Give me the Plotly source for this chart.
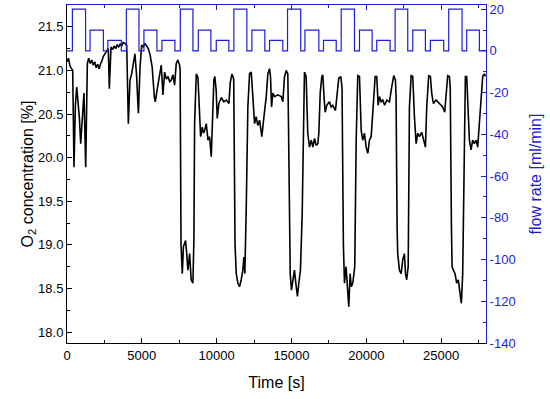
import plotly.graph_objects as go

# O2 concentration trace (time [s], O2 [%])
o2_time = [0, 100, 200, 300, 380, 467, 560, 650, 740, 830, 915, 1000, 1080, 1135, 1250, 1360, 1450, 1550,
           1650, 1750, 1850, 1950, 2050, 2150, 2250, 2320, 2420, 2540, 2650, 2760, 2830, 2940, 3050, 3150,
           3250, 3350, 3450, 3550, 3650, 3750, 3870, 3990, 4100, 4210, 4320, 4430, 4540, 4650, 4770, 4880,
           4990, 5100, 5210, 5320, 5430, 5540, 5690, 5835, 5900, 6055, 6150, 6300, 6410, 6524, 6640, 6750,
           6860, 6970, 7080, 7190, 7300, 7410, 7525, 7560, 7620, 7705, 7780, 7925, 8000, 8080, 8193, 8300,
           8413, 8480, 8527, 8590, 8640, 8750, 8860, 8930, 9040, 9120, 9195, 9307, 9420, 9530, 9640, 9750,
           9815, 9880, 9970, 10040, 10150, 10310, 10480, 10645, 10820, 10910, 11020, 11085, 11140, 11230,
           11310, 11420, 11530, 11640, 11750, 11820, 11885, 11980, 12086, 12200, 12310, 12420, 12533, 12640,
           12750, 12867, 13020, 13135, 13315, 13420, 13535, 13600, 13670, 13755, 13870, 14090, 14315, 14423,
           14537, 14650, 14757, 14800, 14917, 15000, 15090, 15200, 15318, 15400, 15490, 15600, 15718, 15825,
           15868, 15980, 16090, 16200, 16320, 16430, 16540, 16650, 16760, 16830, 16920, 17030, 17095, 17190,
           17255, 17360, 17540, 17650, 17760, 17940, 18055, 18160, 18296, 18380, 18470, 18543, 18650, 18764,
           18830, 18920, 19000, 19097, 19160, 19230, 19325, 19430, 19545, 19660, 19765, 19880, 19990, 20100,
           20212, 20326, 20432, 20593, 20700, 20793, 20880, 20990, 21100, 21230, 21367, 21548, 21700, 21835,
           21948, 21990, 22060, 22100, 22215, 22330, 22436, 22550, 22620, 22700, 22800, 22883, 23000, 23105,
           23217, 23330, 23440, 23550, 23705, 23840, 23952, 24040, 24170, 24285, 24372, 24485, 24665, 24887,
           25107, 25240, 25333, 25440, 25554, 25610, 25690, 25734, 25822, 25930, 26042, 26150, 26268, 26355,
           26442, 26535, 26622, 26710, 26800, 26890, 27000, 27110, 27220, 27335, 27445, 27557, 27670, 27780,
           27890, 27960]
o2_value = [21.10, 21.14, 21.05, 21.02, 21.00, 19.89, 20.60, 20.81, 20.62, 20.45, 20.16, 20.39, 20.60, 20.74,
            19.89, 21.08, 21.14, 21.08, 21.12, 21.06, 21.10, 21.03, 21.07, 21.02, 21.08, 21.10, 21.16, 21.19,
            21.22, 21.25, 20.79, 21.27, 21.24, 21.28, 21.25, 21.29, 21.27, 21.30, 21.28, 21.32, 21.31, 21.29,
            20.39, 20.89, 20.96, 21.08, 21.19, 20.94, 20.51, 21.04, 21.29, 21.27, 21.31, 21.28, 21.25, 21.19,
            21.04, 20.70, 20.64, 20.81, 20.89, 21.06, 20.72, 20.98, 20.90, 20.93, 20.87, 20.89, 20.95, 20.83,
            21.08, 21.12, 21.06, 21.00, 19.00, 18.67, 18.98, 19.05, 18.90, 18.71, 18.90, 18.60, 18.56, 19.05,
            20.39, 20.89, 20.96, 20.92, 20.58, 20.24, 20.35, 20.28, 20.31, 20.39, 20.20, 20.24, 20.01, 20.58,
            20.89, 20.93, 20.77, 20.45, 20.62, 20.69, 20.64, 20.66, 20.62, 20.86, 20.96, 20.93, 20.90, 19.00,
            18.67, 18.56, 18.52, 18.60, 18.71, 18.86, 18.67, 19.44, 20.58, 20.96, 20.98, 20.70, 20.39, 20.47,
            20.37, 20.43, 20.24, 20.43, 20.70, 20.96, 21.02, 20.93, 20.58, 20.74, 20.70, 20.72, 20.70, 20.64,
            20.93, 21.00, 20.96, 20.40, 18.67, 18.48, 18.60, 18.71, 18.52, 18.41, 18.56, 18.71, 19.36, 20.58,
            20.98, 20.93, 20.28, 20.12, 20.20, 20.12, 20.22, 20.14, 20.16, 20.28, 20.74, 20.93, 20.95, 20.66,
            20.52, 20.60, 20.64, 20.58, 20.60, 20.54, 20.77, 20.91, 20.93, 20.80, 19.00, 18.56, 18.75, 18.44,
            18.29, 18.67, 18.52, 18.56, 18.67, 18.75, 20.20, 20.94, 20.93, 20.31, 20.20, 20.28, 20.12, 20.05,
            20.20, 20.24, 20.51, 20.93, 20.93, 20.60, 20.70, 20.64, 20.66, 20.60, 20.66, 20.64, 20.81, 20.94,
            20.89, 20.70, 19.20, 18.90, 18.71, 18.67, 18.83, 18.90, 18.67, 18.60, 18.75, 20.58, 20.94, 20.93,
            20.47, 20.16, 20.28, 20.24, 20.29, 20.20, 20.12, 20.58, 20.94, 20.93, 20.74, 20.62, 20.66, 20.62,
            20.58, 20.52, 20.77, 20.94, 20.93, 20.80, 19.20, 18.75, 18.71, 18.67, 18.56, 18.60, 18.44, 18.33,
            18.67, 20.20, 20.93, 20.93, 20.58, 20.20, 20.09, 20.20, 20.16, 20.20, 20.12, 20.39, 20.74, 20.93,
            20.96, 20.93]

# flow rate step signal (time at which level starts, level [ml/min])
flow_time = [0, 360, 1240, 1540, 2430, 2730, 3630,
             3966, 4810, 5140, 6010, 6345, 7210,
             7572, 8415, 8775, 9615, 9975, 10815,
             11151, 12020, 12355, 13220, 13535, 14420,
             14737, 15620, 15900, 16830, 17140, 17990,
             18323, 19210, 19545, 20390, 20700, 21590,
             21929, 22770, 23105, 23950, 24285, 25175,
             25508, 26400, 26710, 27555, 28000]
flow_value = [0, 20, 0, 10, 0, 5, 0,
              20, 0, 10, 0, 5, 0,
              20, 0, 10, 0, 5, 0,
              20, 0, 10, 0, 5, 0,
              20, 0, 10, 0, 5, 0,
              20, 0, 10, 0, 5, 0,
              20, 0, 10, 0, 5, 0,
              20, 0, 10, 0, 0]

x_ticks = [0, 5000, 10000, 15000, 20000, 25000]
y_ticks = [18.0, 18.5, 19.0, 19.5, 20.0, 20.5, 21.0, 21.5]
y2_ticks = [20, 0, -20, -40, -60, -80, -100, -120, -140]

BLUE = "rgb(30,30,215)"
FONT = "Liberation Sans, Arial, sans-serif"

fig = go.Figure()
fig.add_trace(go.Scatter(x=o2_time, y=o2_value, mode="lines",
                         line=dict(color="black", width=1.6), xaxis="x", yaxis="y",
                         showlegend=False))
fig.add_trace(go.Scatter(x=flow_time, y=flow_value, mode="lines", line_shape="hv",
                         line=dict(color=BLUE, width=1.2), xaxis="x2", yaxis="y2",
                         showlegend=False))

fig.update_layout(
    width=550, height=399,
    margin=dict(l=67, r=64, t=5, b=56),
    paper_bgcolor="white", plot_bgcolor="white",
    font=dict(family=FONT, size=13, color="black"),
    xaxis=dict(range=[0, 28000], tickvals=x_ticks, ticktext=[str(v) for v in x_ticks],
               ticks="inside", ticklen=5, tickcolor="black", showline=True, linecolor="black",
               linewidth=1, showgrid=False, zeroline=False, automargin=False,
               minor=dict(dtick=2500, tick0=0, ticks="inside", ticklen=3, tickcolor="black"),
               title=dict(text="Time [s]", font=dict(size=16), standoff=15),
               tickfont=dict(size=13)),
    xaxis2=dict(range=[0, 28000], overlaying="x", side="top", anchor="y2",
                tickvals=x_ticks, showticklabels=False, automargin=False,
                ticks="inside", ticklen=5, tickcolor=BLUE, showline=True, linecolor=BLUE,
                linewidth=1, showgrid=False, zeroline=False,
                minor=dict(dtick=2500, tick0=0, ticks="inside", ticklen=3, tickcolor=BLUE)),
    yaxis=dict(range=[17.875, 21.75], tickvals=y_ticks, ticktext=[f"{v:.1f}" for v in y_ticks],
               ticks="inside", ticklen=5, tickcolor="black", showline=True, linecolor="black",
               linewidth=1, showgrid=False, zeroline=False, automargin=False,
               minor=dict(dtick=0.25, tick0=18.0, ticks="inside", ticklen=3, tickcolor="black"),
               title=dict(text="O<sub>2</sub> concentration [%]", font=dict(size=16), standoff=0),
               tickfont=dict(size=13)),
    yaxis2=dict(range=[-140, 22], overlaying="y", side="right", anchor="x2",
                tickvals=y2_ticks, ticktext=[str(v) for v in y2_ticks], automargin=False,
                ticks="inside", ticklen=5, tickcolor=BLUE, showline=True, linecolor=BLUE,
                linewidth=1, showgrid=False, zeroline=False,
                minor=dict(dtick=10, tick0=0, ticks="inside", ticklen=3, tickcolor=BLUE),
                tickfont=dict(size=13, color=BLUE),
                title=dict(text="flow rate [ml/min]", font=dict(size=16, color=BLUE), standoff=15)),
)

fig.write_html("out.html", config={"displayModeBar": False},
               post_script="document.body.style.margin='0';")
